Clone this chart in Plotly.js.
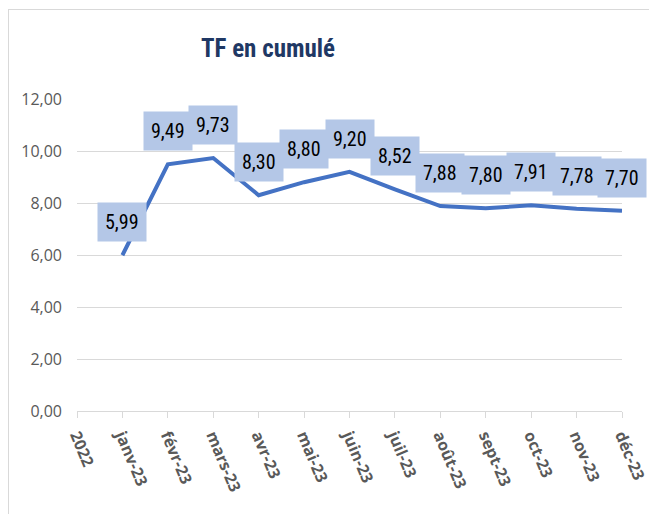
<!DOCTYPE html>
<html>
<head>
<meta charset="utf-8">
<script src="https://cdn.plot.ly/plotly-3.0.1.min.js"></script>
<style>
  html, body { margin: 0; padding: 0; background: #fff; }
  #frame { position: absolute; left: 8px; top: 9px; width: 700px; height: 600px;
           border-left: 1.5px solid #D9D9D9; border-top: 1.5px solid #D9D9D9; pointer-events: none; }
  #chart { position: absolute; left: 0; top: 0; width: 649px; height: 514px; }
</style>
</head>
<body>
<div id="chart"></div>
<div id="frame"></div>
<script>
const categories = ["2022", "janv-23", "févr-23", "mars-23", "avr-23", "mai-23", "juin-23",
                    "juil-23", "août-23", "sept-23", "oct-23", "nov-23", "déc-23"];
const seriesX = ["janv-23", "févr-23", "mars-23", "avr-23", "mai-23", "juin-23",
                 "juil-23", "août-23", "sept-23", "oct-23", "nov-23", "déc-23"];
const seriesY = [5.99, 9.49, 9.73, 8.30, 8.80, 9.20, 8.52, 7.88, 7.80, 7.91, 7.78, 7.70];
const yTicks = [0, 2, 4, 6, 8, 10, 12];

const NARROW = "Roboto Condensed, sans-serif";
const WIDE = "Open Sans, sans-serif";

const annotations = seriesX.map((c, i) => ({
  x: c, y: seriesY[i], xref: "x", yref: "y",
  text: seriesY[i].toFixed(2).replace(".", ","),
  showarrow: false, yshift: 33,
  bgcolor: "#B4C7E7", borderpad: 7,
  font: { family: NARROW, size: 20, color: "#000000" }
}));

const trace = {
  type: "scatter", mode: "lines",
  x: seriesX, y: seriesY,
  line: { color: "#4472C4", width: 4 },
  hoverinfo: "skip"
};

const layout = {
  width: 649, height: 514,
  margin: { l: 77, r: 27, t: 99, b: 103 },
  paper_bgcolor: "#ffffff", plot_bgcolor: "#ffffff",
  separators: ", ",
  showlegend: false,
  title: {
    text: "<b>TF en cumulé</b>",
    font: { family: NARROW, size: 25, color: "#1F3864" },
    x: 268 / 649, xref: "container", xanchor: "center",
    y: 1 - 48 / 514, yref: "container", yanchor: "middle"
  },
  xaxis: {
    type: "category",
    categoryorder: "array", categoryarray: categories,
    range: [0, categories.length - 1],
    showgrid: false, zeroline: false,
    showline: true, linecolor: "#D9D9D9", linewidth: 1,
    ticks: "outside", ticklen: 6, tickcolor: "#D9D9D9", tickwidth: 1,
    tickangle: 67,
    ticklabelstandoff: 2,
    tickfont: { family: WIDE, size: 16, color: "#595959", weight: "bold" },
    fixedrange: true
  },
  yaxis: {
    range: [0, 12],
    tickvals: yTicks,
    tickformat: ".2f",
    showgrid: true, gridcolor: "#D9D9D9", gridwidth: 1,
    zeroline: false, showline: false, ticks: "",
    ticklabelstandoff: 14,
    tickfont: { family: WIDE, size: 16, color: "#595959" },
    fixedrange: true
  },
  annotations: annotations
};

Plotly.newPlot("chart", [trace], layout, { displayModeBar: false, staticPlot: true });
</script>
</body>
</html>
